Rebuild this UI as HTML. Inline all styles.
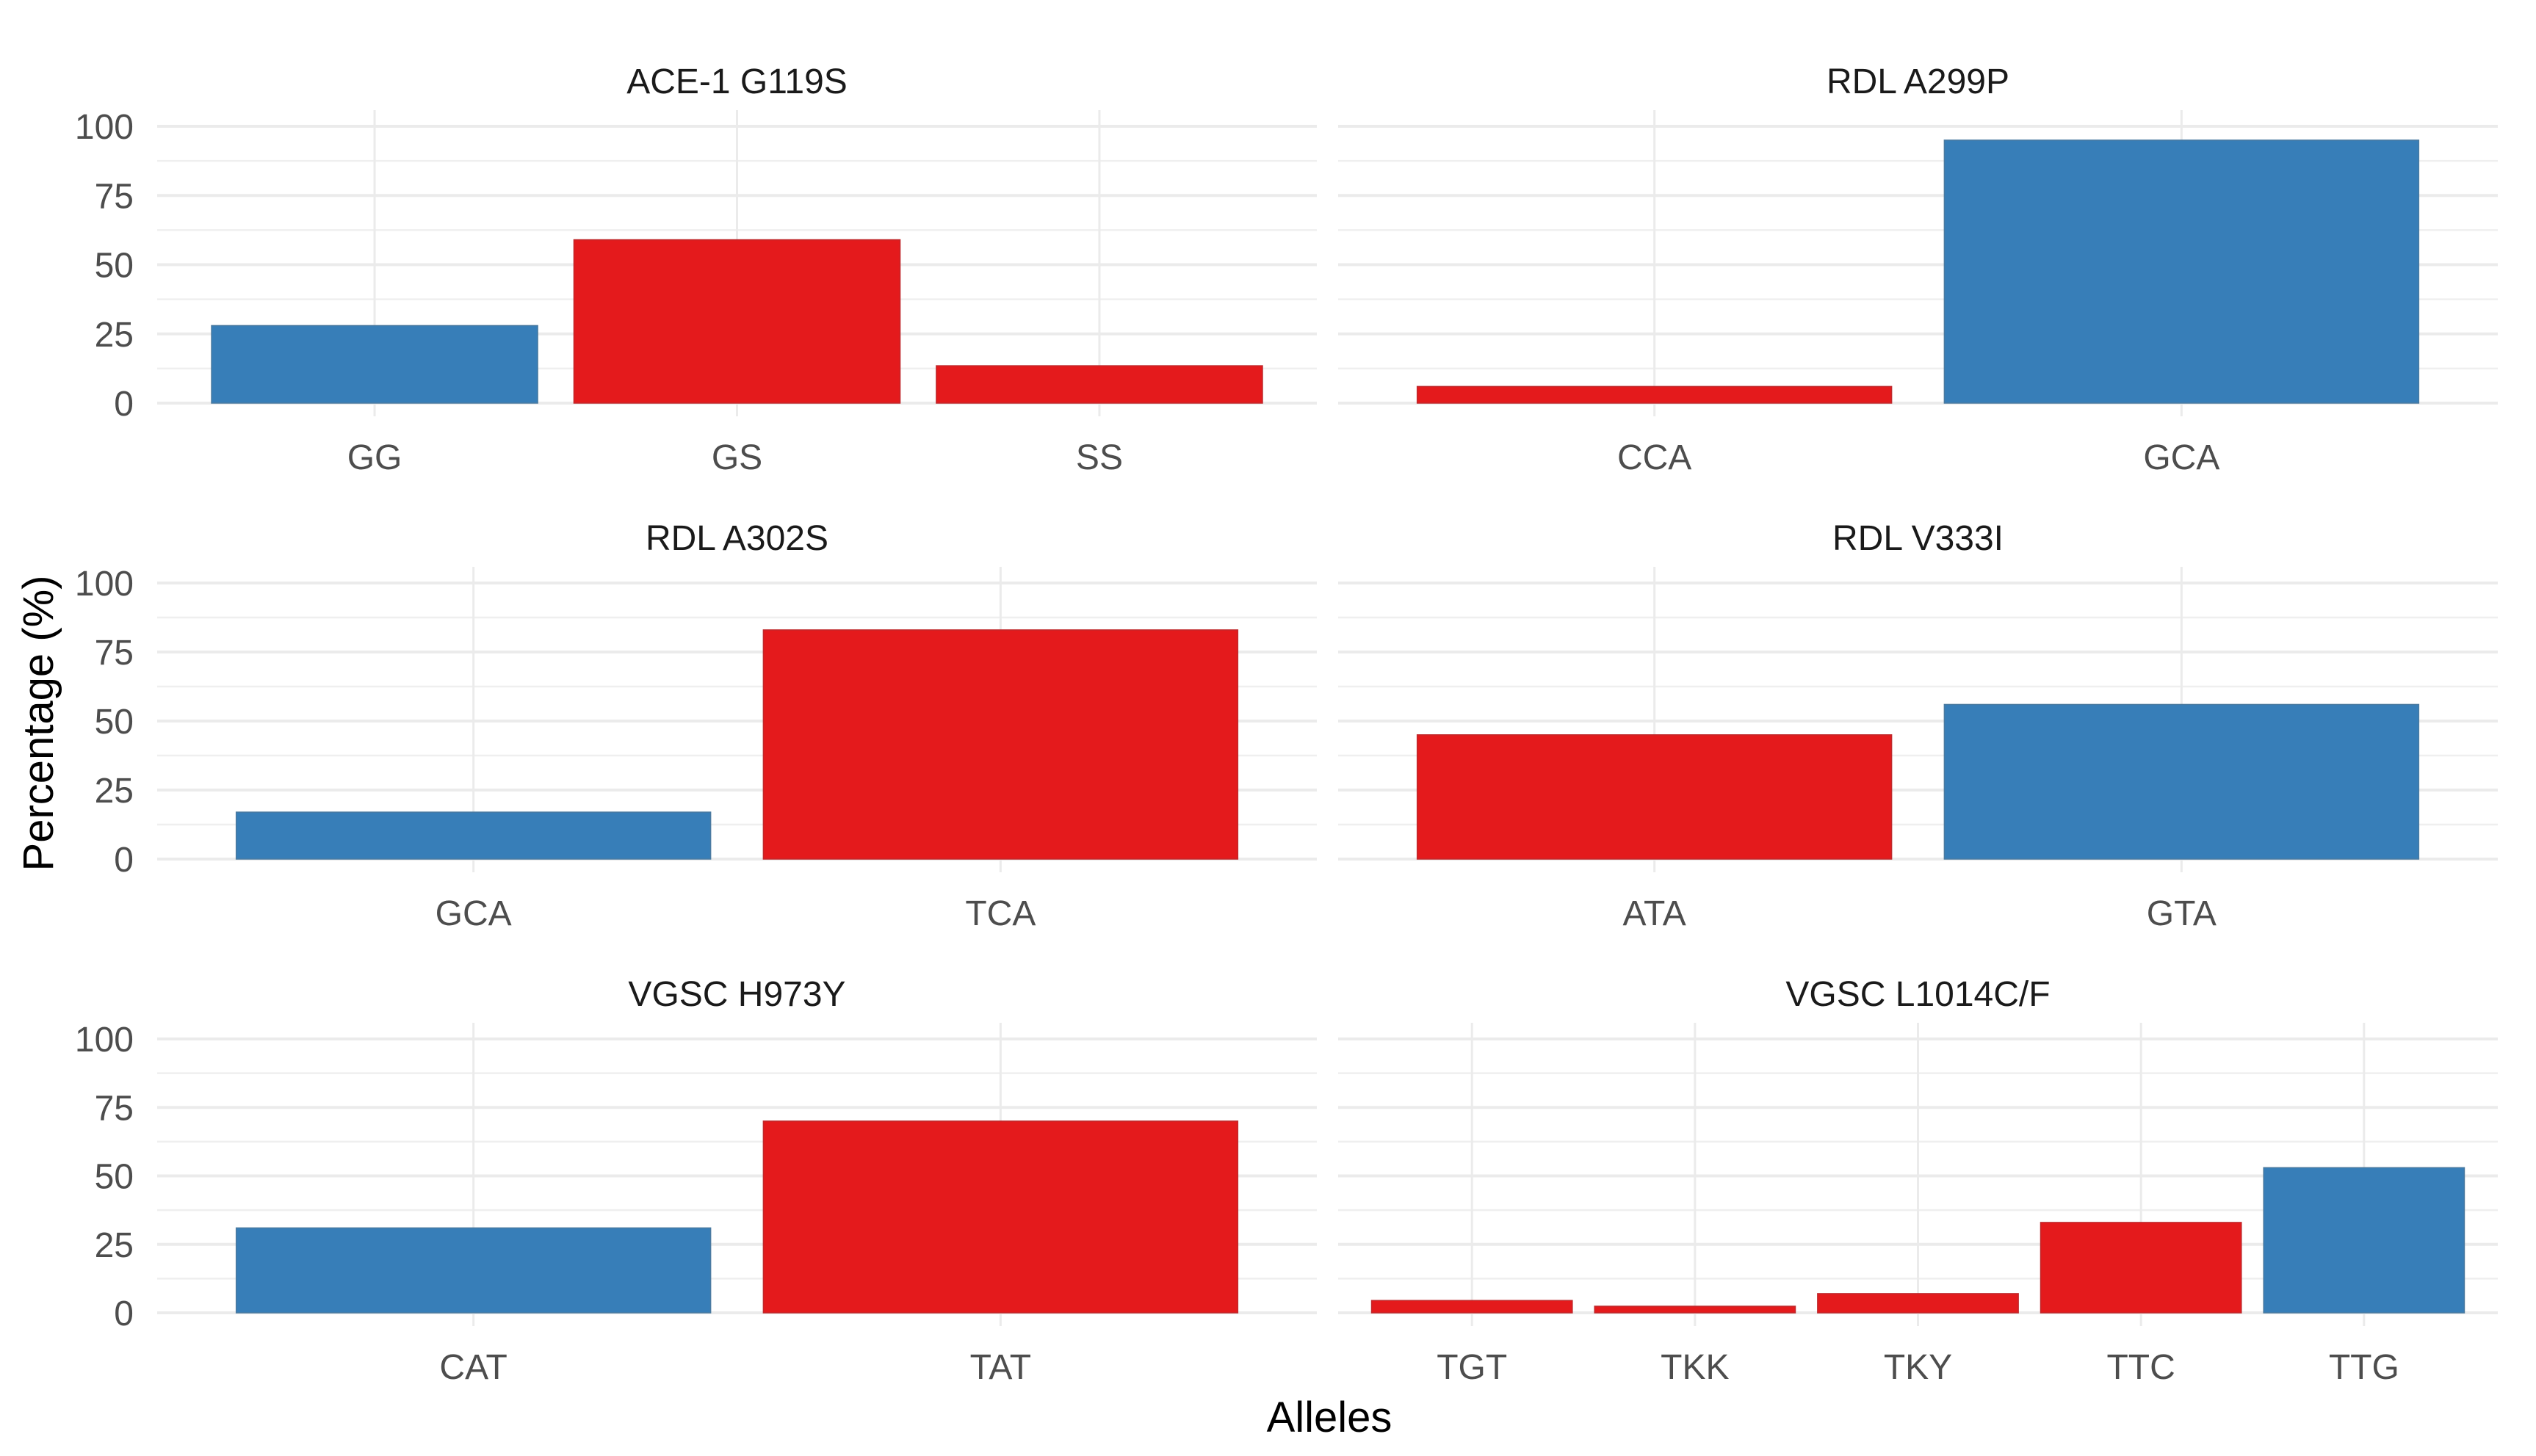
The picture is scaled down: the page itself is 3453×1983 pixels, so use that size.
<!DOCTYPE html>
<html><head><meta charset="utf-8"><style>
html,body{margin:0;padding:0;background:#fff}
svg{display:block;font-family:"Liberation Sans",sans-serif}
</style></head><body>
<svg id="chart" width="3453" height="1983" viewBox="0 0 3453 1983" xmlns="http://www.w3.org/2000/svg">
<rect width="3453" height="1983" fill="#fff"/>
<text x="0" y="0" transform="translate(72,985) rotate(-90)" text-anchor="middle" font-size="58" fill="#000">Percentage (%)</text>
<text x="1810" y="1950" text-anchor="middle" font-size="58" fill="#000">Alleles</text>
</svg>
<script>
const panelTitles = ["ACE-1 G119S","RDL A299P","RDL A302S","RDL V333I","VGSC H973Y","VGSC L1014C/F"];
const cats0 = ["GG","GS","SS"];       const vals0 = [28,59,13.5];  const cols0 = ["b","r","r"];
const cats1 = ["CCA","GCA"];          const vals1 = [6,95];        const cols1 = ["r","b"];
const cats2 = ["GCA","TCA"];          const vals2 = [17,83];       const cols2 = ["b","r"];
const cats3 = ["ATA","GTA"];          const vals3 = [45,56];       const cols3 = ["r","b"];
const cats4 = ["CAT","TAT"];          const vals4 = [31,70];       const cols4 = ["b","r"];
const cats5 = ["TGT","TKK","TKY","TTC","TTG"]; const vals5 = [4.5,2.4,7,33,53]; const cols5 = ["r","r","r","r","b"];
const yTicks = [0,25,50,75,100];
const yTickLabels = ["0","25","50","75","100"];

const allCats=[cats0,cats1,cats2,cats3,cats4,cats5];
const allVals=[vals0,vals1,vals2,vals3,vals4,vals5];
const allCols=[cols0,cols1,cols2,cols3,cols4,cols5];
const NS="http://www.w3.org/2000/svg";
const svg=document.getElementById('chart');
const colLeft=[214,1822], colW=1579;
const rowTop=[172,794,1415], rowZero=[549,1170,1788];
function mk(t,a,p){const e=document.createElementNS(NS,t);for(const k in a)e.setAttribute(k,a[k]);(p||svg).appendChild(e);return e;}
for(let p=0;p<6;p++){
  const r=Math.floor(p/2), c=p%2;
  const x0=colLeft[c], x1=x0+colW;
  const y100=rowTop[r], y0=rowZero[r];
  const yS=v=>y0-(y0-y100)*v/100;
  const cats=allCats[p], vals=allVals[p], cols=allCols[p];
  const n=cats.length, unit=colW/(n+0.2);
  const xS=i=>x0+(0.6+i)*unit;
  const g=mk('g',{});
  
  
  const top=y100-22, bot=y0+18;
  // minor grid
  for(let k=0;k<4;k++){const l=mk('line',{x1:x0,x2:x1,y1:yS(12.5+25*k),y2:yS(12.5+25*k),stroke:'#EFEFEF','stroke-width':2.5},g);
    }
  yTicks.forEach((t,k)=>{const l=mk('line',{x1:x0,x2:x1,y1:yS(t),y2:yS(t),stroke:'#EBEBEB','stroke-width':4},g);
    
    if(c===0){const tx=mk('text',{x:182,y:yS(t)+17,'text-anchor':'end','font-size':48,fill:'#4D4D4D'},g);tx.textContent=yTickLabels[k];
      }
  });
  cats.forEach((cat,i)=>{const l=mk('line',{x1:xS(i),x2:xS(i),y1:top,y2:bot,stroke:'#EBEBEB','stroke-width':3},g);
    });
  cats.forEach((cat,i)=>{
    const bw=0.9*unit, yv=yS(vals[i]);
    const b=mk('rect',{x:xS(i)-bw/2,y:yv,width:bw,height:y0-yv,fill:cols[i]==='b'?'#377EB8':'#E41A1C',stroke:cols[i]==='b'?'#4a7aa0':'#c0282b','stroke-width':1.5},g);
    
    
    const t=mk('text',{x:xS(i),y:y0+90,'text-anchor':'middle','font-size':48,fill:'#4D4D4D'},g);t.textContent=cat;
    
    
  });
  const ti=mk('text',{x:x0+colW/2,y:y100-45,'text-anchor':'middle','font-size':48,fill:'#1A1A1A'},g);ti.textContent=panelTitles[p];
  
  
}
</script>
</body></html>
